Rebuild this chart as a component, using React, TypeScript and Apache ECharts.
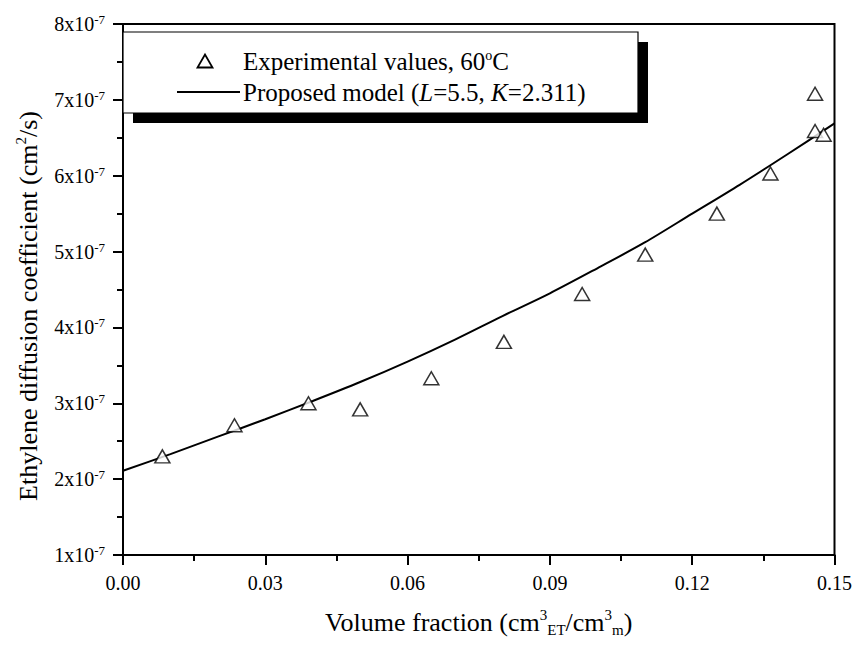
import React, { useEffect, useRef } from "react";
import * as echarts from "echarts";

// Experimental values (volume fraction, diffusion coefficient in units of 1e-7 cm2/s)
const expX = [0.0083, 0.0235, 0.0391, 0.05, 0.065, 0.0803, 0.0968, 0.1101, 0.1252, 0.1365, 0.1459, 0.1459, 0.1477];
const expY = [2.3, 2.71, 3.0, 2.92, 3.33, 3.81, 4.44, 4.96, 5.5, 6.03, 7.08, 6.59, 6.54];

// Proposed model curve (units of 1e-7 cm2/s)
const modelX = [0, 0.01, 0.02, 0.03, 0.04, 0.05, 0.06, 0.07, 0.08, 0.09, 0.1, 0.11, 0.12, 0.13, 0.14, 0.15];
const modelY = [2.11, 2.33, 2.56, 2.79, 3.03, 3.28, 3.55, 3.84, 4.15, 4.45, 4.78, 5.12, 5.5, 5.88, 6.28, 6.69];

// Axes
const xMin = 0;
const xMax = 0.15;
const xStep = 0.03;
const yMin = 1;
const yMax = 8;
const yStep = 1;
const yExponent = "-7";

const seriesNames = ["Experimental values, 60°C", "Proposed model (L=5.5, K=2.311)"];

const FONT = "'Liberation Serif', 'Times New Roman', serif";

export default function App() {
  const ref = useRef<HTMLDivElement>(null);
  useEffect(() => {
    if (!ref.current) return;
    const chart = echarts.init(ref.current, undefined, { renderer: "svg" });
    const legendRich: Record<string, any> = {
      t: { fontSize: 25, fontFamily: FONT, fill: "#000", lineHeight: 26 },
      it: { fontSize: 25, fontFamily: FONT, fill: "#000", fontStyle: "italic", lineHeight: 26 },
      sup: { fontSize: 14, fontFamily: FONT, fill: "#000", verticalAlign: "top", lineHeight: 14 },
    };
    const titleRich: Record<string, any> = {
      t: { fontSize: 26, fontFamily: FONT, fill: "#000", lineHeight: 30 },
      sup: { fontSize: 15, fontFamily: FONT, fill: "#000", verticalAlign: "top", lineHeight: 15 },
    };
    const option: any = {
      animation: false,
      backgroundColor: "#fff",
      textStyle: { fontFamily: FONT },
      grid: {
        left: 123,
        right: 18,
        top: 24,
        bottom: 94,
        show: true,
        borderColor: "#000",
        borderWidth: 2,
        backgroundColor: "transparent",
      },
      legend: { show: false, data: seriesNames },
      graphic: [
        { type: "rect", z: 5, shape: { x: 133, y: 42, width: 515, height: 81 }, style: { fill: "#000" } },
        {
          type: "rect",
          z: 6,
          shape: { x: 123, y: 32, width: 515, height: 81 },
          style: { fill: "#fff", stroke: "#000", lineWidth: 1.2 },
        },
        {
          type: "polygon",
          z: 7,
          shape: { points: [[197.5, 67.5], [212.5, 67.5], [205, 54.5]] },
          style: { fill: "#fff", stroke: "#000", lineWidth: 1.8 },
        },
        {
          type: "line",
          z: 7,
          shape: { x1: 177, y1: 92, x2: 240, y2: 92 },
          style: { stroke: "#000", lineWidth: 2 },
        },
        {
          type: "text",
          z: 7,
          x: 243,
          y: 61,
          style: {
            text: "{t|Experimental values, 60}{sup|o}{t|C}",
            rich: legendRich,
            verticalAlign: "middle",
            align: "left",
            font: `25px ${FONT}`,
            fill: "#000",
          },
        },
        {
          type: "text",
          z: 7,
          x: 243,
          y: 92,
          style: {
            text: "{t|Proposed model (}{it|L}{t|=5.5, }{it|K}{t|=2.311)}",
            rich: legendRich,
            verticalAlign: "middle",
            align: "left",
            font: `25px ${FONT}`,
            fill: "#000",
          },
        },
        {
          type: "text",
          z: 7,
          x: 28,
          y: 306,
          rotation: Math.PI / 2,
          style: {
            text: "{t|Ethylene diffusion coefficient (cm}{sup|2}{t|/s)}",
            rich: titleRich,
            verticalAlign: "middle",
            align: "center",
            font: `26px ${FONT}`,
            fill: "#000",
          },
        },
      ],
      xAxis: {
        type: "value",
        min: xMin,
        max: xMax,
        interval: xStep,
        name: "{t|Volume fraction (cm}{sup|3}{sub|ET}{t|/cm}{sup|3}{sub|m}{t|)}",
        nameLocation: "middle",
        nameGap: 52,
        nameTextStyle: {
          rich: {
            t: { fontSize: 26, fontFamily: FONT, color: "#000", lineHeight: 30 },
            sup: { fontSize: 15, fontFamily: FONT, color: "#000", verticalAlign: "top", lineHeight: 15 },
            sub: { fontSize: 15, fontFamily: FONT, color: "#000", verticalAlign: "bottom", lineHeight: 15 },
          },
        },
        axisLine: { show: true, onZero: false, lineStyle: { color: "#000", width: 2 } },
        axisTick: { show: true, inside: false, length: 10, lineStyle: { color: "#000", width: 2 } },
        minorTick: { show: true, splitNumber: 2, length: 6, lineStyle: { color: "#000", width: 2 } },
        splitLine: { show: false },
        axisLabel: {
          margin: 18,
          fontSize: 20,
          fontFamily: FONT,
          color: "#000",
          formatter: (v: number) => v.toFixed(2),
        },
      },
      yAxis: {
        type: "value",
        min: yMin,
        max: yMax,
        interval: yStep,
        axisLine: { show: true, onZero: false, lineStyle: { color: "#000", width: 2 } },
        axisTick: { show: true, inside: false, length: 10, lineStyle: { color: "#000", width: 2 } },
        minorTick: { show: true, splitNumber: 2, length: 6, lineStyle: { color: "#000", width: 2 } },
        splitLine: { show: false },
        axisLabel: {
          margin: 18,
          color: "#000",
          formatter: (v: number) => `{b|${v}x10}{s|${yExponent}}`,
          rich: {
            b: { fontSize: 20, fontFamily: FONT, color: "#000", lineHeight: 22 },
            s: { fontSize: 13, fontFamily: FONT, color: "#000", verticalAlign: "top", lineHeight: 13 },
          },
        },
      },
      series: [
        {
          name: seriesNames[0],
          type: "scatter",
          symbol: "triangle",
          symbolSize: [15, 13],
          itemStyle: { color: "#fff", borderColor: "#000", borderWidth: 1.5 },
          data: expX.map((x, i) => [x, expY[i]]),
          z: 4,
        },
        {
          name: seriesNames[1],
          type: "line",
          smooth: 0.3,
          symbol: "none",
          showSymbol: false,
          lineStyle: { color: "#000", width: 2 },
          itemStyle: { color: "#000" },
          data: modelX.map((x, i) => [x, modelY[i]]),
          z: 3,
        },
      ],
    };
    chart.setOption(option);
    return () => chart.dispose();
  }, []);
  return (
    <div
      ref={ref}
      style={{ position: "fixed", left: 0, top: 0, width: 855, height: 649, background: "#fff" }}
    />
  );
}
